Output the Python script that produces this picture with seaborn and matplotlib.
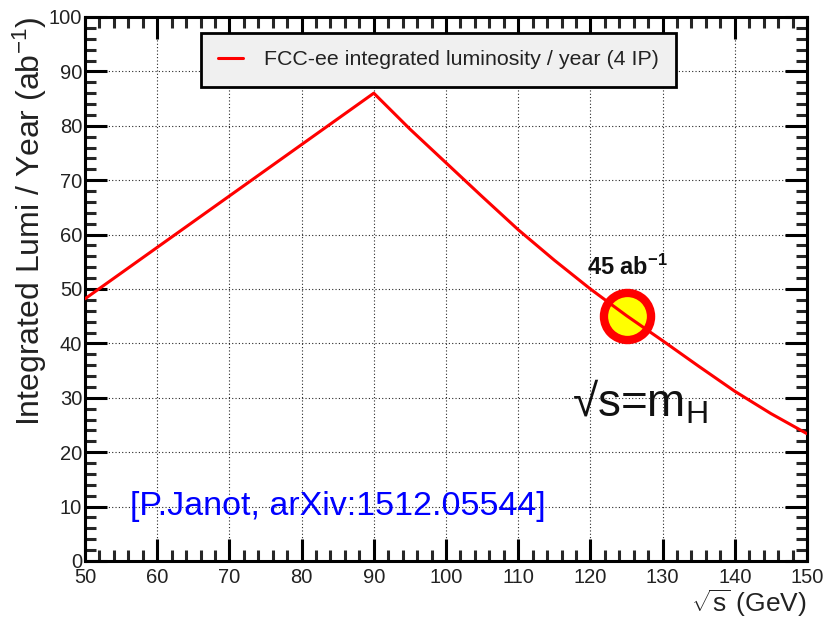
import matplotlib
matplotlib.use("Agg")
import matplotlib.pyplot as plt
from matplotlib.ticker import MultipleLocator
import seaborn as sns
import pandas as pd

# ---- data ----
sqrt_s = [50, 90, 95, 100, 105, 110, 115, 120, 125, 130, 135, 140, 145, 150]
lumi = [48.2, 86.0, 79.4, 73.2, 67.0, 60.9, 55.3, 50.0, 45.1, 40.5, 35.8, 31.2, 27.1, 23.4]
higgs_x = [125]
higgs_y = [45]
series_label = "FCC-ee integrated luminosity / year (4 IP)"
x_ticks = [50, 60, 70, 80, 90, 100, 110, 120, 130, 140, 150]
y_ticks = [0, 10, 20, 30, 40, 50, 60, 70, 80, 90, 100]

sns.set_theme(style="white")
plt.rcParams["font.family"] = ["Liberation Sans", "DejaVu Sans"]
plt.rcParams["mathtext.fontset"] = "custom"
plt.rcParams["mathtext.rm"] = "Liberation Sans"
plt.rcParams["mathtext.it"] = "Liberation Sans"
plt.rcParams["mathtext.bf"] = "Liberation Sans:bold"
plt.rcParams["mathtext.default"] = "regular"

df = pd.DataFrame({"x": sqrt_s, "y": lumi})
dh = pd.DataFrame({"x": higgs_x, "y": higgs_y})

fig = plt.figure(figsize=(8.23, 6.2), dpi=100)
ax = fig.add_axes([85 / 823, 1 - 561 / 620, 722 / 823, 544 / 620])

sns.lineplot(data=df, x="x", y="y", ax=ax, color="#ff0000", linewidth=2.2,
             label=series_label, zorder=4)
sns.scatterplot(data=dh, x="x", y="y", ax=ax, s=1150, color="#ffff00",
                edgecolor="#ff0000", linewidth=6.0, zorder=3, legend=False)

ax.set_xlim(50, 150)
ax.set_ylim(0, 100)
ax.set_xticks(x_ticks)
ax.set_yticks(y_ticks)
ax.xaxis.set_minor_locator(MultipleLocator(2))
ax.yaxis.set_minor_locator(MultipleLocator(2))

ax.grid(True, which="major", color="black", linestyle=(0, (1, 2)), linewidth=0.8, alpha=0.85)
for sp in ax.spines.values():
    sp.set_color("black")
    sp.set_linewidth(2.2)
    sp.set_visible(True)

ax.tick_params(which="major", direction="in", length=16, width=2.2, top=True, right=True,
               bottom=True, left=True, labelsize=14.5, colors="black", pad=3)
ax.tick_params(which="minor", direction="in", length=8, width=2.2, top=True, right=True,
               bottom=True, left=True)
ax.tick_params(axis="x", which="major", pad=5)
ax.tick_params(axis="y", which="major", pad=2)
for lab in ax.get_xticklabels() + ax.get_yticklabels():
    lab.set_color("#222222")

ax.set_ylabel(r"Integrated Lumi / Year (ab$^{-1}$)", fontsize=23, loc="top", color="#222222")
ax.yaxis.set_label_coords(-0.050, 1.0)
ax.set_xlabel(r"$\sqrt{s}$ (GeV)", fontsize=19, loc="right", color="#222222")
ax.xaxis.set_label_coords(1.0, -0.048)

leg = ax.legend(loc="upper left", bbox_to_anchor=(0.161, 0.970), borderaxespad=0,
                fontsize=15.4, frameon=True, fancybox=False, facecolor="#f0f0f0",
                edgecolor="black", handlelength=1.15, handletextpad=1.0,
                borderpad=0.8, framealpha=1)
leg.get_frame().set_linewidth(2)
for txt in leg.get_texts():
    txt.set_color("#222222")

ax.text(125.2, 52.6, r"45 ab$^{\mathbf{-1}}$", fontsize=17, fontweight="bold",
        ha="center", va="baseline", color="#111111", zorder=5)
ax.text(117.5, 26.5, r"√s=m$_{\mathrm{H}}$", fontsize=33, ha="left", va="baseline",
        color="#111111", zorder=5)
ax.text(56.2, 8.5, "[P.Janot, arXiv:1512.05544]", fontsize=24.5, ha="left", va="baseline",
        color="#0000ff", zorder=5)

fig.savefig("out.png", dpi=100)
